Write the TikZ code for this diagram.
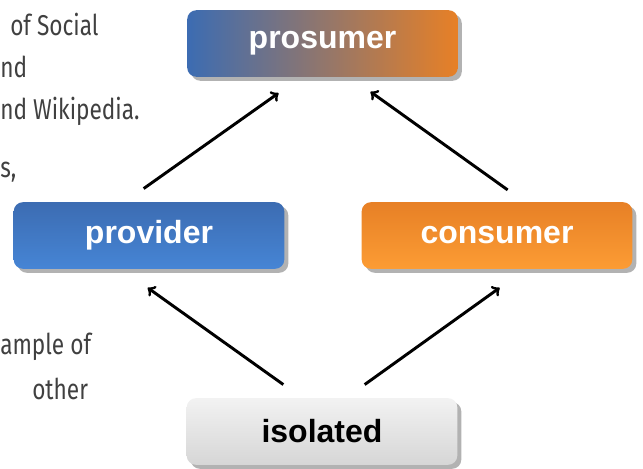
\documentclass[tikz,border=0pt]{standalone}
\usepackage{fontspec}
\setmainfont{Liberation Sans}
\newfontfamily\pagefont[FakeStretch=0.79]{Fira Sans}
\usetikzlibrary{shadows}

\definecolor{roleblue}{RGB}{60,108,178}
\definecolor{roleblueb}{RGB}{70,133,213}
\definecolor{roleorange}{RGB}{231,128,38}
\definecolor{roleorangeb}{RGB}{252,156,52}
\definecolor{rolegray}{RGB}{242,242,242}
\definecolor{rolegrayb}{RGB}{214,214,214}

\begin{document}
\begin{tikzpicture}[x=0.75pt, y=-0.75pt,
    rolebox/.style={rounded corners=7pt, minimum width=203pt, minimum height=50pt,
        font=\fontsize{24}{28}\selectfont\bfseries, text=white,
        drop shadow={shadow xshift=3pt, shadow yshift=-3pt, fill=black!60}},
    frag/.style={anchor=base west, inner sep=0pt,
        font=\pagefont\fontsize{21.5}{25}\selectfont, text=black!75},
    link/.style={->, >=to, line width=2.2pt}]

    \useasboundingbox (0,0) rectangle (643,468);

    % page text cut off at the left
    \begin{scope}
        \clip (0,0) rectangle (643,468);
        \node[frag] (frag1) at (10,35) {of Social};
        \node[frag] (frag2) at (0,77) {nd};
        \node[frag] (frag3) at (0,119) {nd Wikipedia.};
        \node[frag] (frag4) at (0,177) {s,};
        \node[frag] (frag5) at (0,354) {ample of};
        \node[frag] (frag6) at (32,399) {other};
    \end{scope}

    \node[rolebox, left color=roleblue, right color=roleorange] (prosumer)
        at (322.5,43.5) {prosumer};
    \node[rolebox, top color=roleblue, bottom color=roleblueb] (provider)
        at (149,235.5) {provider};
    \node[rolebox, top color=roleorange, bottom color=roleorangeb] (consumer)
        at (497,235.5) {consumer};
    \node[rolebox, top color=rolegray, bottom color=rolegrayb, text=black] (isolated)
        at (322,431.5) {isolated};

    \draw[link] ([xshift=-4pt, yshift=10pt]provider.north)
        -- ([xshift=-33pt, yshift=-12pt]prosumer.south);
    \draw[link] ([xshift=8pt, yshift=9pt]consumer.north)
        -- ([xshift=36pt, yshift=-11pt]prosumer.south);

    \draw[link] ([xshift=-29pt, yshift=10pt]isolated.north)
        -- ([xshift=-1pt, yshift=-14pt]provider.south);
    \draw[link] ([xshift=32pt, yshift=10pt]isolated.north)
        -- ([xshift=2pt, yshift=-14pt]consumer.south);

\end{tikzpicture}
\end{document}
